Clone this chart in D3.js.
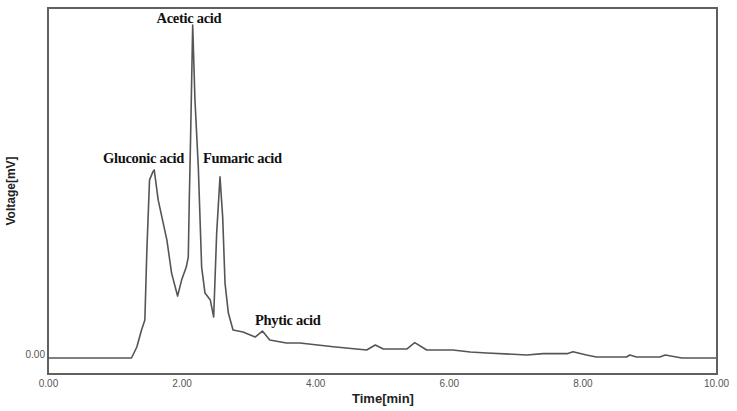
<!DOCTYPE html>
<html>
<head>
<meta charset="utf-8">
<script src="https://cdn.jsdelivr.net/npm/d3@7"></script>
<style>
  body { margin: 0; background: #fff; }
</style>
</head>
<body>
<div id="vizContainer"></div>
<script>
let w = 737;
let h = 411;

// chromatogram trace
let times = [0, 1.25, 1.33, 1.40, 1.45, 1.48, 1.52, 1.57, 1.59, 1.65, 1.78, 1.85, 1.94, 2.00, 2.07, 2.10, 2.115, 2.136, 2.166, 2.20, 2.25, 2.30, 2.35, 2.43, 2.48, 2.525, 2.575, 2.615, 2.65, 2.70, 2.77, 2.92, 3.10, 3.21, 3.32, 3.57, 3.77, 4.27, 4.77, 4.90, 5.02, 5.37, 5.49, 5.67, 6.06, 6.32, 6.57, 7.17, 7.41, 7.77, 7.86, 8.06, 8.21, 8.66, 8.71, 8.81, 9.16, 9.24, 9.49, 10.0];
let voltages = [0, 0, 3.3, 8.4, 11.4, 32.4, 53.5, 55.9, 56.5, 47.4, 35.4, 25.5, 18.6, 23.4, 27.3, 30.3, 47.4, 67.6, 100, 77.5, 57.4, 27.3, 19.5, 17.4, 12.3, 37.5, 54.4, 42.3, 22.5, 13.5, 8.4, 7.8, 6.3, 8.1, 5.4, 4.5, 4.5, 3.4, 2.4, 3.9, 2.7, 2.7, 4.6, 2.4, 2.4, 1.8, 1.5, 0.9, 1.3, 1.3, 1.9, 0.9, 0.3, 0.3, 0.9, 0.3, 0.3, 0.9, 0, 0];

let xTicks = [0, 2, 4, 6, 8, 10];
let yTicks = [0];

// peak annotations: name, centre time and baseline level
let peakNames = ["Acetic acid", "Gluconic acid", "Fumaric acid", "Phytic acid"];
let peakTimes = [2.11, 1.43, 2.91, 3.59];
let peakLevels = [100.7, 58.6, 58.6, 10.0];

let plotLeft = 48, plotRight = 717, plotTop = 8, plotBottom = 374;

let viz = d3.select("#vizContainer").append("svg")
    .attr("width", w)
    .attr("height", h)
    .style("background-color", "white")
;

let xScale = d3.scaleLinear().domain([0, 10]).range([plotLeft, 716]);
let yScale = d3.scaleLinear().domain([0, 100]).range([358, 25]);

// frame
viz.append("rect")
    .attr("x", plotLeft)
    .attr("y", plotTop)
    .attr("width", plotRight - plotLeft)
    .attr("height", plotBottom - plotTop)
    .attr("fill", "none")
    .attr("stroke", "#606060")
    .attr("stroke-width", 2)
;

// x axis labels
let xAxis = d3.axisBottom(xScale).tickValues(xTicks).tickFormat(d3.format(".2f")).tickSize(0).tickPadding(6);
let xAxisGroup = viz.append("g")
    .attr("class", "xaxisgroup")
    .attr("transform", "translate(0," + plotBottom + ")")
    .call(xAxis)
;
xAxisGroup.select("path").attr("display", "none");
xAxisGroup.selectAll("text")
    .attr("fill", "#555")
    .style("font-family", "Arial, 'Liberation Sans', sans-serif")
    .style("font-size", "10px")
;

// y axis labels
let yAxis = d3.axisLeft(yScale).tickValues(yTicks).tickFormat(d3.format(".2f")).tickSize(0).tickPadding(3);
let yAxisGroup = viz.append("g")
    .attr("class", "yaxisgroup")
    .attr("transform", "translate(" + plotLeft + ",0)")
    .call(yAxis)
;
yAxisGroup.select("path").attr("display", "none");
yAxisGroup.selectAll("text")
    .attr("fill", "#555")
    .attr("dy", "-0.05em")
    .style("font-family", "Arial, 'Liberation Sans', sans-serif")
    .style("font-size", "10px")
;

// axis titles
viz.append("text")
    .attr("x", 383)
    .attr("y", 403)
    .attr("text-anchor", "middle")
    .attr("fill", "#222")
    .style("font-family", "Arial, 'Liberation Sans', sans-serif")
    .style("font-weight", "bold")
    .style("font-size", "13px")
    .text("Time[min]")
;
viz.append("text")
    .attr("transform", "translate(15,191) rotate(-90)")
    .attr("text-anchor", "middle")
    .attr("fill", "#222")
    .style("font-family", "Arial, 'Liberation Sans', sans-serif")
    .style("font-weight", "bold")
    .style("font-size", "12px")
    .text("Voltage[mV]")
;

// trace
let data = times.map((t, i) => ({t: t, v: voltages[i]}));
let line = d3.line().x(d => xScale(d.t)).y(d => yScale(d.v));
viz.append("path")
    .datum(data)
    .attr("d", line)
    .attr("fill", "none")
    .attr("stroke", "#555")
    .attr("stroke-width", 1.6)
    .attr("stroke-linejoin", "round")
;

// peak labels
viz.selectAll(".peaklabel").data(peakNames).enter()
  .append("text")
    .attr("class", "peaklabel")
    .attr("x", (d, i) => xScale(peakTimes[i]))
    .attr("y", (d, i) => yScale(peakLevels[i]))
    .attr("text-anchor", "middle")
    .attr("fill", "#111")
    .style("font-family", "'Liberation Serif', 'Times New Roman', serif")
    .style("font-weight", "bold")
    .style("font-size", "14.5px")
    .style("letter-spacing", "-0.3px")
    .text(d => d)
;
</script>
</body>
</html>
